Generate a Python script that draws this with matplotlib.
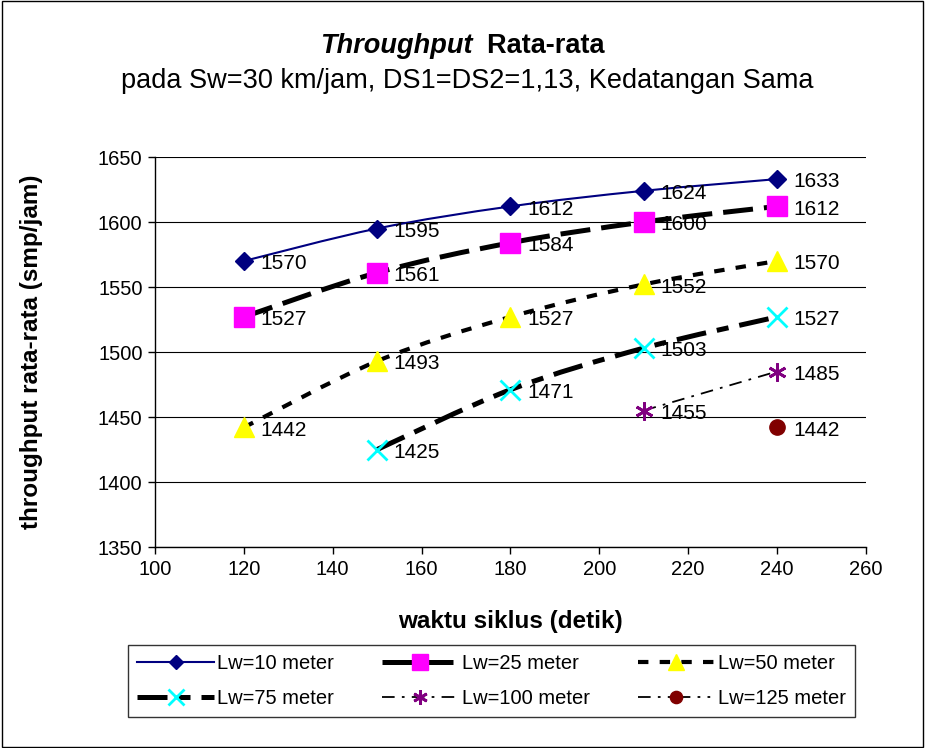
import matplotlib
matplotlib.use("Agg")
import matplotlib.pyplot as plt
from matplotlib.path import Path
from matplotlib.patches import PathPatch, Rectangle
from matplotlib.lines import Line2D
import numpy as np

plt.rcParams['font.family'] = ['Liberation Sans', 'DejaVu Sans']

x_all = [120, 150, 180, 210, 240]
lw10 = [1570, 1595, 1612, 1624, 1633]
lw25 = [1527, 1561, 1584, 1600, 1612]
lw50 = [1442, 1493, 1527, 1552, 1570]
x75 = [150, 180, 210, 240]
lw75 = [1425, 1471, 1503, 1527]
x100 = [210, 240]
lw100 = [1455, 1485]
x125 = [240]
lw125 = [1442]

series_labels = ["Lw=10 meter", "Lw=25 meter", "Lw=50 meter",
                 "Lw=75 meter", "Lw=100 meter", "Lw=125 meter"]

fig = plt.figure(figsize=(9.25, 7.48), dpi=100)
ax = fig.add_axes([0.1676, 0.2687, 0.7684, 0.5214])

fig.patches.append(Rectangle((0.002, 0.002), 0.996, 0.996, transform=fig.transFigure,
                             fill=False, edgecolor='black', linewidth=1.0))


def smooth_path(xs, ys):
    # Catmull-Rom -> cubic Bezier in data space (smoothed line like Excel)
    pts = np.column_stack([xs, ys]).astype(float)
    n = len(pts)
    verts = [pts[0]]
    codes = [Path.MOVETO]
    for i in range(n - 1):
        p0 = pts[i - 1] if i > 0 else pts[i]
        p1 = pts[i]
        p2 = pts[i + 1]
        p3 = pts[i + 2] if i + 2 < n else pts[i + 1]
        c1 = p1 + (p2 - p0) / 6.0
        c2 = p2 - (p3 - p1) / 6.0
        verts += [c1, c2, p2]
        codes += [Path.CURVE4] * 3
    return Path(verts, codes)


styles = [
    dict(color='#000080', lw=1.5, ls='-', marker='D', mfc='#000080', mec='#000080', ms=9, mew=1),
    dict(color='black', lw=3.6, ls=(0, (6, 2.2)), marker='s', mfc='#FF00FF', mec='#FF00FF', ms=14, mew=1),
    dict(color='black', lw=3.0, ls=(0, (2.5, 2.7)), marker='^', mfc='#FFFF00', mec='#FFFF00', ms=15, mew=1),
    dict(color='black', lw=3.6, ls=(0, (6, 2.2, 2.4, 2.2)), marker='x', mfc='#00FFFF', mec='#00FFFF', ms=14, mew=2),
    dict(color='black', lw=1.3, ls=(0, (7, 4, 1.5, 4)), marker=(6, 2, 0), mfc='#800080', mec='#800080', ms=13, mew=2),
    dict(color='black', lw=1.3, ls=(0, (7, 4, 1.5, 4, 1.5, 4)), marker='o', mfc='#800000', mec='#800000', ms=11, mew=1),
]

data = [(x_all, lw10), (x_all, lw25), (x_all, lw50), (x75, lw75), (x100, lw100), (x125, lw125)]

handles = []
for (xs, ys), st, lab in zip(data, styles, series_labels):
    if len(xs) > 1:
        pp = PathPatch(smooth_path(xs, ys), fill=False, edgecolor=st['color'],
                       linewidth=st['lw'], linestyle=st['ls'], zorder=2,
                       capstyle='butt')
        ax.add_patch(pp)
    ax.plot(xs, ys, linestyle='none', marker=st['marker'], markerfacecolor=st['mfc'],
            markeredgecolor=st['mec'], markersize=st['ms'], markeredgewidth=st['mew'], zorder=3)
    for xv, yv in zip(xs, ys):
        ax.annotate(str(yv), (xv, yv), xytext=(12, -2), textcoords='offset points',
                    ha='left', va='center', fontsize=15, color='black', zorder=4)
    handles.append(Line2D([], [], color=st['color'], lw=st['lw'], ls=st['ls'],
                          marker=st['marker'], markerfacecolor=st['mfc'],
                          markeredgecolor=st['mec'], markersize=st['ms'] * 0.8,
                          markeredgewidth=st['mew'], dash_capstyle='butt'))

ax.set_xlim(100, 260)
ax.set_ylim(1350, 1650)
ax.set_xticks(range(100, 261, 20))
ax.set_yticks(range(1350, 1651, 50))
ax.tick_params(axis='both', labelsize=14.5, direction='out', length=5, width=1, pad=4)
ax.grid(axis='y', color='black', linewidth=0.8)
ax.set_axisbelow(True)
for s in ['top', 'right']:
    ax.spines[s].set_visible(False)
for s in ['left', 'bottom']:
    ax.spines[s].set_linewidth(1.0)

ax.set_xlabel('waktu siklus (detik)', fontsize=17.5, fontweight='bold')
ax.set_ylabel('throughput rata-rata (smp/jam)', fontsize=17.5, fontweight='bold')
ax.xaxis.set_label_coords(0.5, -0.162)
ax.yaxis.set_label_coords(-0.158, 0.5)

t1 = fig.text(0.5, 0.939, 'Throughput', fontsize=19.5, fontweight='bold', fontstyle='italic',
              ha='right', va='center')
t2 = fig.text(0.5, 0.939, '  Rata-rata', fontsize=19.5, fontweight='bold', ha='left', va='center')
fig.canvas.draw()
r = fig.canvas.get_renderer()
w1 = t1.get_window_extent(r).width / fig.bbox.width
w2 = t2.get_window_extent(r).width / fig.bbox.width
shift = (w1 - w2) / 2
t1.set_x(0.5 + shift)
t2.set_x(0.5 + shift)
fig.text(0.505, 0.892, 'pada Sw=30 km/jam, DS1=DS2=1,13, Kedatangan Sama', fontsize=19.5,
         ha='center', va='center')

order = [0, 3, 1, 4, 2, 5]
leg = fig.legend([handles[i] for i in order], [series_labels[i] for i in order],
                 ncol=3, loc='center', bbox_to_anchor=(0.5314, 0.0896),
                 bbox_transform=fig.transFigure,
                 fontsize=14.5, frameon=True, fancybox=False, edgecolor='black',
                 handlelength=3.8, columnspacing=2.4, handletextpad=0.15,
                 borderpad=0.45, labelspacing=0.8, borderaxespad=0)
leg.get_frame().set_linewidth(1.0)

fig.savefig('out.png', dpi=100)
